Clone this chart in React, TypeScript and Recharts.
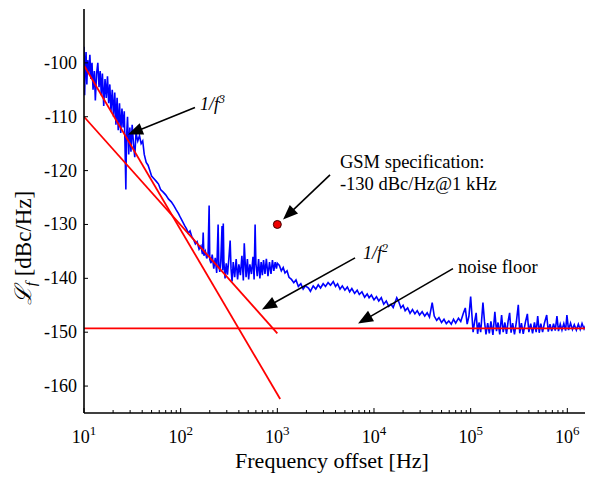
import React from 'react';
import { LineChart, Line, XAxis, YAxis, ReferenceDot } from 'recharts';

const flickerBand: [number, number][] = [
  [10, -97], [10.15, -106], [10.3, -101], [10.5, -98], [10.7, -104], [10.9, -99.5], [11.2, -102], [11.5, -98.5],
  [11.8, -103], [12.1, -100], [12.4, -105], [12.8, -101.5], [13.1, -107], [13.5, -102], [13.9, -100], [14.3, -104.5],
  [14.7, -101.5], [15.1, -106], [15.5, -102], [16, -108], [16.5, -103], [17, -106.5], [17.5, -102.5], [18, -107.5],
  [18.5, -104], [19, -109], [19.6, -105], [20.2, -110], [20.8, -105.5], [21.4, -111.5], [22, -106.5], [22.6, -112.5],
  [23.3, -107.5], [24, -113], [24.7, -108.5], [25.4, -112], [26.1, -109], [26.6, -116], [27.1, -123.5], [27.5, -114],
  [28.2, -110], [29, -117], [29.8, -112], [30.6, -116.5], [31.5, -111.5], [32.5, -115], [33.5, -117.5], [34.5, -113],
  [36, -114.5], [37.5, -113.5], [39, -115], [40.5, -114.5], [42, -117], [44, -118.5], [46, -119], [48, -120],
  [50, -121], [53, -121.5], [56, -122], [59, -122.5], [62, -123.5],
];

const spurBand: [number, number][] = [
  [66, -124], [70, -124.5], [75, -125.3], [80, -125.8], [85, -126.5], [90, -127.3], [95, -128], [100, -128.8],
  [105, -129.5], [110, -130.2], [115, -130.8], [120, -131.6], [125, -131.2], [130, -132.2], [136, -132.8], [142, -133.6],
  [148, -133.2], [155, -134.6], [162, -134], [168, -135.5], [171, -131.5], [174, -135.8], [180, -135], [186, -136.3],
  [192, -135.5], [197, -126.5], [200, -136.5], [206, -137.2], [212, -135.6], [220, -138.2], [228, -136.2], [236, -139],
  [244, -130], [248, -137.5], [254, -138.8], [260, -136.8], [268, -130.3], [272, -138.5], [276, -129.8], [280, -137],
  [288, -140], [296, -137.2], [305, -139.3], [315, -136.4], [325, -133], [332, -138.2], [340, -140.6], [350, -137],
  [362, -139.8], [375, -136.4], [388, -140.2], [400, -137.4], [415, -139.4], [430, -135.8], [445, -140.4], [455, -133.5],
  [465, -137], [475, -139.8], [490, -136.4], [505, -140.2], [520, -137.4], [540, -139.2], [560, -136], [575, -140.2],
  [589, -130], [600, -137.2], [620, -139.6], [640, -136.4], [660, -140], [680, -137], [700, -139.4], [720, -136.6],
  [745, -139.2], [770, -136.4], [800, -139.6], [830, -137], [860, -139.2], [890, -136.6], [920, -138.6], [950, -137],
  [980, -138.2], [1000, -137.2],
];

const thermalBand: [number, number][] = [
  [1050, -137.6], [1100, -138.6], [1150, -138], [1200, -139], [1260, -138.6], [1320, -139.8], [1400, -140.2], [1480, -140.8],
  [1560, -140.3], [1650, -141.5], [1750, -141], [1850, -142], [1950, -141.4], [2100, -141.8], [2200, -142.4], [2350, -141.4],
  [2500, -142], [2650, -141.2], [2800, -141.8], [2980, -141], [3150, -141.5], [3350, -140.8], [3550, -141.3], [3790, -140.6],
  [4000, -141.5], [4200, -141], [4450, -142], [4700, -141.4], [5000, -142.2], [5300, -141.6], [5600, -142.5], [5900, -141.9],
  [6300, -142.8], [6700, -142.2], [7050, -143], [7500, -142.5], [8000, -143.5], [8500, -142.9], [8900, -143.6], [9400, -143.1],
  [10000, -144], [10600, -143.4], [11200, -144.2], [11900, -143.6], [12600, -144.8], [13400, -144.2], [14200, -145.2], [15000, -144.8],
  [15800, -145.4], [16500, -144.5], [17200, -143.6], [18000, -144.3], [19000, -145.5], [20000, -145], [21000, -146], [22300, -145.5],
  [23600, -146.5], [25000, -145.8], [26500, -146.6], [28000, -146], [29600, -146.8], [31500, -146.2], [33500, -147], [35500, -146.4],
  [37500, -147.2], [40000, -144.5], [42000, -147], [44500, -147.8], [47000, -147.3], [50000, -148.2], [53000, -147.6], [56000, -148.4],
  [59400, -147.9], [63000, -148.5], [66500, -147.6], [70000, -148.3], [74800, -147.4], [79000, -148], [84000, -146.5], [88000, -145.5],
  [92000, -148.5], [96000, -147], [100000, -143.4],
];

const floorBand: [number, number][] = [
  [106e3, -150], [110e3, -148], [114e3, -146.4], [118e3, -150.3], [122e3, -148.2], [127e3, -150], [134e3, -144.5], [139e3, -148],
  [144e3, -150.4], [150e3, -148.3], [156e3, -150.2], [162e3, -148], [170e3, -150.5], [178e3, -146.2], [185e3, -149.8], [192e3, -148.2],
  [200e3, -150.4], [209e3, -146.8], [217e3, -150], [226e3, -148.2], [235e3, -150.3], [244e3, -148], [253e3, -146.4], [262e3, -150.1],
  [272e3, -148.3], [284e3, -150.4], [297e3, -148.1], [311e3, -144.9], [322e3, -150.2], [335e3, -148.3], [350e3, -150.3], [368e3, -148.2],
  [386e3, -146.6], [400e3, -150], [418e3, -148.4], [437e3, -150.2], [457e3, -148.2], [476e3, -150], [494e3, -147], [512e3, -150.1],
  [532e3, -148.4], [555e3, -150], [580e3, -148.3], [612e3, -146.8], [635e3, -149.9], [662e3, -148.5], [690e3, -149.8], [720e3, -148.4],
  [750e3, -149.7], [781e3, -147], [810e3, -149.8], [845e3, -148.5], [880e3, -149.6], [920e3, -148.4], [960e3, -149.7], [990e3, -146.8],
  [1030e3, -149.6], [1080e3, -148.3], [1130e3, -149.5], [1180e3, -148.6], [1240e3, -149.6], [1300e3, -148.5], [1360e3, -149.5], [1420e3, -148.4],
  [1490e3, -149.4], [1560e3, -148.6], [1630e3, -147.6], [1700e3, -149.4], [1780e3, -148.5], [1800e3, -149],
];

// asymptotes
const slope3Freq = [10, 1070];
const slope3Dbc = [-100.5, -162.4];
const slope2Freq = [10, 1000];
const slope2Dbc = [-110, -150.2];
const floorFreq = [10, 1.8e6];
const floorDbc = [-149.3, -149.3];

const gsmFreq = 1000;
const gsmDbc = -130;

const decadeTicks = [10, 100, 1e3, 1e4, 1e5, 1e6];
const levelTicks = [-160, -150, -140, -130, -120, -110, -100];

const F_MIN = 10;
const F_MAX = 1.8e6;
const DB_MIN = -165;
const DB_MAX = -90;

const W = 585;
const H = 469;
const Y_AXIS_W = 76;
const X_AXIS_H = 64;
const MARGIN = { top: 1, right: 1, bottom: 0, left: 0 };
const PLOT = {
  left: Y_AXIS_W,
  top: MARGIN.top,
  width: W - Y_AXIS_W - MARGIN.right,
  height: H - MARGIN.top - X_AXIS_H,
};

const FONT = "'Liberation Serif', 'Times New Roman', 'DejaVu Serif', serif";

const toPx = (f: number, db: number): [number, number] => {
  const lo = Math.log10(F_MIN);
  const hi = Math.log10(F_MAX);
  return [
    PLOT.left + ((Math.log10(f) - lo) / (hi - lo)) * PLOT.width,
    PLOT.top + ((DB_MAX - db) / (DB_MAX - DB_MIN)) * PLOT.height,
  ];
};

const toRows = (pairs: [number, number][]) => pairs.map(([f, v]) => ({ f, v }));
const zipRows = (fs: number[], vs: number[]) => fs.map((f, i) => ({ f, v: vs[i] }));

const traceRows = toRows([...flickerBand, ...spurBand, ...thermalBand, ...floorBand]);
const slope3Rows = zipRows(slope3Freq, slope3Dbc);
const slope2Rows = zipRows(slope2Freq, slope2Dbc);
const floorRows = zipRows(floorFreq, floorDbc);

const freqTicks = decadeTicks
  .flatMap((d) => [1, 2, 3, 4, 5, 6, 7, 8, 9].map((m) => m * d))
  .filter((v) => v <= F_MAX);
const isDecade = (v: number) => decadeTicks.some((d) => Math.abs(d - v) < d * 1e-9);

// annotation anchors in data coordinates: text position, arrow tail, arrow tip
const annotations = [
  { kind: 'f3', text: [158.6, -108.7], tail: [140.6, -108.3], tip: [28.5, -113.3] },
  { kind: 'gsm', text: [4446, -119.5], tail: [3508, -120.8], tip: [1146, -129.1] },
  { kind: 'f2', text: [7690, -136.5], tail: [6370, -136.2], tip: [693, -145.8] },
  { kind: 'floor', text: [73960, -139], tail: [65600, -138.2], tip: [6840, -148.4] },
];

const BottomTick = (props: any) => {
  const { x, y, payload } = props;
  const major = isDecade(payload.value);
  const exp = Math.round(Math.log10(payload.value));
  return (
    <g>
      <line x1={x} x2={x} y1={y} y2={y - (major ? 5 : 3)} stroke="#000" strokeWidth={1} />
      {major && (
        <text x={x} y={y + 30} textAnchor="middle" fontFamily={FONT} fontSize={18} fill="#000">
          10
          <tspan dy={-8} fontSize={13}>{exp}</tspan>
        </text>
      )}
    </g>
  );
};

const TopTick = (props: any) => {
  const { x, y, payload } = props;
  const major = isDecade(payload.value);
  return <line x1={x} x2={x} y1={y} y2={y + (major ? 5 : 3)} stroke="#000" strokeWidth={1} />;
};

const LeftTick = (props: any) => {
  const { x, y, payload } = props;
  return (
    <g>
      <line x1={x} x2={x + 4} y1={y} y2={y} stroke="#000" strokeWidth={1} />
      <text x={x - 7} y={y + 6} textAnchor="end" fontFamily={FONT} fontSize={18} fill="#000">
        {String(payload.value)}
      </text>
    </g>
  );
};

const RightTick = (props: any) => {
  const { x, y } = props;
  return <line x1={x} x2={x - 4} y1={y} y2={y} stroke="#000" strokeWidth={1} />;
};

const Arrow = ({ from, to }: { from: [number, number]; to: [number, number] }) => {
  const dx = to[0] - from[0];
  const dy = to[1] - from[1];
  const len = Math.hypot(dx, dy);
  const ux = dx / len;
  const uy = dy / len;
  const head = 15;
  const half = 6;
  const bx = to[0] - ux * head;
  const by = to[1] - uy * head;
  const pts = [
    `${to[0]},${to[1]}`,
    `${bx - uy * half},${by + ux * half}`,
    `${bx + uy * half},${by - ux * half}`,
  ].join(' ');
  return (
    <g>
      <line x1={from[0]} y1={from[1]} x2={bx + ux * 2} y2={by + uy * 2} stroke="#000" strokeWidth={1.6} />
      <polygon points={pts} fill="#000" />
    </g>
  );
};

const Annotations = () => (
  <svg
    width={W}
    height={H}
    style={{ position: 'absolute', left: 0, top: 0, pointerEvents: 'none', overflow: 'visible' }}
  >
    {annotations.map((a) => {
      const [tx, ty] = toPx(a.text[0], a.text[1]);
      const tail = toPx(a.tail[0], a.tail[1]);
      const tip = toPx(a.tip[0], a.tip[1]);
      let label: React.ReactNode = null;
      if (a.kind === 'f3' || a.kind === 'f2') {
        label = (
          <text x={tx} y={ty} fontFamily={FONT} fontSize={18} fontStyle="italic" fill="#000">
            1/f
            <tspan dy={-7} fontSize={12}>{a.kind === 'f3' ? '3' : '2'}</tspan>
          </text>
        );
      } else if (a.kind === 'gsm') {
        label = (
          <text x={tx} y={ty} fontFamily={FONT} fontSize={18.5} fill="#000">
            <tspan x={tx}>GSM specification:</tspan>
            <tspan x={tx} dy={22}>-130 dBc/Hz@1 kHz</tspan>
          </text>
        );
      } else {
        label = (
          <text x={tx} y={ty} fontFamily={FONT} fontSize={18.5} fill="#000">
            noise floor
          </text>
        );
      }
      return (
        <g key={a.kind}>
          <Arrow from={tail} to={tip} />
          {label}
        </g>
      );
    })}
    <text
      transform={`translate(23, 240) rotate(-90)`}
      textAnchor="middle"
      fontFamily={FONT}
      fontSize={23}
      fill="#000"
    >
      <tspan fontStyle="italic">ℒ</tspan>
      <tspan fontStyle="italic" fontSize={15} dy={5}>f</tspan>
      <tspan dy={-5}> [dBc/Hz]</tspan>
    </text>
    <text x={PLOT.left + PLOT.width / 2 - 6} y={460} textAnchor="middle" fontFamily={FONT} fontSize={22} fill="#000">
      Frequency offset [Hz]
    </text>
  </svg>
);

export default function App() {
  return (
    <div style={{ position: 'relative', width: W, height: H, background: '#fff' }}>
      <LineChart width={W} height={H} margin={MARGIN}>
        <XAxis
          dataKey="f"
          type="number"
          scale="log"
          domain={[F_MIN, F_MAX]}
          allowDataOverflow
          ticks={freqTicks}
          interval={0}
          height={X_AXIS_H}
          tickSize={0}
          tickMargin={0}
          tick={<BottomTick />}
          axisLine={{ stroke: '#000', strokeWidth: 1.6 }}
        />
        <XAxis
          xAxisId="top"
          orientation="top"
          dataKey="f"
          type="number"
          scale="log"
          domain={[F_MIN, F_MAX]}
          allowDataOverflow
          ticks={freqTicks}
          interval={0}
          height={0}
          tickSize={0}
          tickMargin={0}
          tick={<TopTick />}
          axisLine={{ stroke: '#000', strokeWidth: 1.6 }}
        />
        <YAxis
          type="number"
          domain={[DB_MIN, DB_MAX]}
          allowDataOverflow
          ticks={levelTicks}
          interval={0}
          width={Y_AXIS_W}
          tickSize={0}
          tickMargin={0}
          tick={<LeftTick />}
          axisLine={{ stroke: '#000', strokeWidth: 1.6 }}
        />
        <YAxis
          yAxisId="right"
          orientation="right"
          type="number"
          domain={[DB_MIN, DB_MAX]}
          allowDataOverflow
          ticks={levelTicks}
          interval={0}
          width={0}
          tickSize={0}
          tickMargin={0}
          tick={<RightTick />}
          axisLine={{ stroke: '#000', strokeWidth: 1.6 }}
        />
        <Line
          data={traceRows}
          dataKey="v"
          type="linear"
          stroke="#0000ff"
          strokeWidth={1.6}
          dot={false}
          isAnimationActive={false}
        />
        <Line data={slope3Rows} dataKey="v" type="linear" stroke="#ff0000" strokeWidth={1.8} dot={false} isAnimationActive={false} />
        <Line data={slope2Rows} dataKey="v" type="linear" stroke="#ff0000" strokeWidth={1.8} dot={false} isAnimationActive={false} />
        <Line data={floorRows} dataKey="v" type="linear" stroke="#ff0000" strokeWidth={1.8} dot={false} isAnimationActive={false} />
        <ReferenceDot x={gsmFreq} y={gsmDbc} r={4} fill="#ee0000" stroke="#400000" strokeWidth={1} />
      </LineChart>
      <Annotations />
    </div>
  );
}
